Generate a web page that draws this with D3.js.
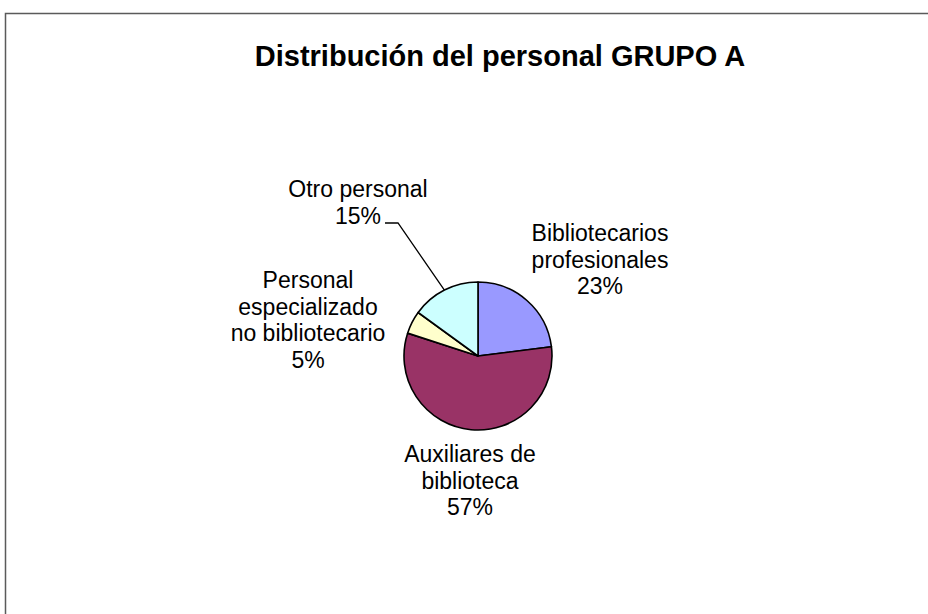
<!DOCTYPE html>
<html>
<head>
<meta charset="utf-8">
<script src="https://cdn.jsdelivr.net/npm/d3@7"></script>
<style>
  html, body { margin: 0; padding: 0; background: #fff; }
  svg { display: block; }
</style>
</head>
<body>
<svg id="chart" width="928" height="614"></svg>
<script>
// ---- data ----
const title = "Distribución del personal GRUPO A";
const categories = ["Bibliotecarios profesionales", "Auxiliares de biblioteca", "Personal especializado no bibliotecario", "Otro personal"];
const labelLines = [["Bibliotecarios", "profesionales"], ["Auxiliares de", "biblioteca"], ["Personal", "especializado", "no bibliotecario"], ["Otro personal"]];
const values = [23, 57, 5, 15];
const colors = ["#9999FF", "#993366", "#FFFFCC", "#CCFFFF"];

// ---- layout ----
const W = 928, H = 614;
const cx = 478, cy = 356, R = 74;
const font = "'Liberation Sans', Arial, Helvetica, sans-serif";
const lineH = 26.5;
// label anchors (center x, first baseline y) relative to pie center
const labelPos = [
  {dx: 122, dy: -115},
  {dx: -8, dy: 106},
  {dx: -170, dy: -68},
  {dx: -120, dy: -159}
];

const svg = d3.select("#chart");

// outer frame
svg.append("rect")
  .attr("x", 5.5).attr("y", 13.5)
  .attr("width", W + 20).attr("height", H + 20)
  .attr("fill", "none").attr("stroke", "#5a5a5a").attr("stroke-width", 1.5);

// title
svg.append("text")
  .attr("x", 500).attr("y", 66)
  .attr("text-anchor", "middle")
  .attr("font-family", font).attr("font-weight", "bold")
  .attr("font-size", 29)
  .attr("fill", "#000")
  .text(title);

const total = d3.sum(values);
const pie = d3.pie().sort(null).value(d => d.value);
const arcs = pie(categories.map((c, i) => ({cat: c, value: values[i], i})));
const arc = d3.arc().innerRadius(0).outerRadius(R);
const edgeArc = d3.arc().innerRadius(R).outerRadius(R);

const g = svg.append("g").attr("transform", `translate(${cx},${cy})`);
g.selectAll("path.slice").data(arcs).join("path")
  .attr("class", "slice")
  .attr("d", arc)
  .attr("fill", d => colors[d.data.i])
  .attr("stroke", "#000").attr("stroke-width", 1.6)
  .attr("stroke-linejoin", "round");

// labels
arcs.forEach(d => {
  const i = d.data.i;
  const p = labelPos[i];
  const lines = labelLines[i].concat([Math.round(d.data.value / total * 100) + "%"]);
  const t = g.append("text")
    .attr("text-anchor", "middle")
    .attr("font-family", font).attr("font-size", 23)
    .attr("fill", "#000");
  lines.forEach((ln, k) => {
    t.append("tspan").attr("x", p.dx).attr("y", p.dy + k * lineH).text(ln);
  });
});

// leader line for "Otro personal"
{
  const d = arcs[3];
  const p = labelPos[3];
  const edge = edgeArc.centroid(d);
  const yLine = p.dy + lineH - 0.5;
  const x0 = p.dx + 27;
  g.append("polyline")
    .attr("points", [[x0, yLine], [x0 + 13, yLine], edge].map(q => q.join(",")).join(" "))
    .attr("fill", "none").attr("stroke", "#000").attr("stroke-width", 1.3);
}
</script>
</body>
</html>
